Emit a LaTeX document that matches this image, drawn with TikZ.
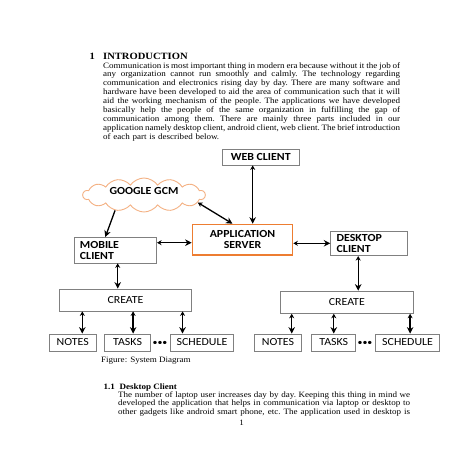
\documentclass[tikz,border=0pt]{standalone}
\usepackage{fontspec}
\setmainfont{Liberation Serif}[FakeStretch=1.1]
\newfontfamily\diagfont{Carlito}[FakeStretch=1.1]
\usetikzlibrary{positioning,calc,shapes.symbols,arrows.meta}
\definecolor{boxgray}{HTML}{808080}
\definecolor{srvorange}{HTML}{ED7D31}
\definecolor{cloudorange}{HTML}{F4B183}
\newcommand{\jline}[2][297pt]{\leavevmode{\spaceskip=0.25em plus 1fil minus 0.08em\xspaceskip=\spaceskip\hbox to #1{#2}}}
\tikzset{block/.style={draw=boxgray,line width=0.8pt,inner sep=0pt,align=center,
                       font=\diagfont\fontsize{10.8}{10.6}\selectfont},
         bblock/.style={block,font=\diagfont\bfseries\fontsize{10.8}{10.6}\selectfont},
         para/.style={anchor=base west,inner sep=0pt,align=left,
                      font=\fontsize{8.2}{8.9}\selectfont},
         line/.style={-latex}
}
\tikzstyle{arrow} = [line width=1.3pt,{Stealth[length=4.5pt,width=5pt]}-{Stealth[length=6.5pt,width=6.5pt]}]
\tikzstyle{oneway} = [line width=1.3pt,-{Stealth[length=6.5pt,width=6.5pt]}]

\begin{document}
\begin{tikzpicture}[x=1pt,y=-1pt]
\path[use as bounding box,fill=white] (0,0) rectangle (453,453);

% page text
\node[anchor=base west,inner sep=0pt,font=\bfseries\fontsize{9.6}{10}\selectfont] (secnum) at (89.5,59.5) {1};
\node[anchor=base west,inner sep=0pt,font=\bfseries\fontsize{9.6}{10}\selectfont] (sectitle) at (103,59.5) {INTRODUCTION};
\node[para,text width=297pt] (intro) at (103,68) {%
\jline{Communication is most important thing in modern era because without it the job of}\\
\jline{any organization cannot run smoothly and calmly. The technology regarding}\\
\jline{communication and electronics rising day by day. There are many software and}\\
\jline{hardware have been developed to aid the area of communication such that it will}\\
\jline{aid the working mechanism of the people. The applications we have developed}\\
\jline{basically help the people of the same organization in fulfilling the gap of}\\
\jline{communication among them. There are mainly three parts included in our}\\
\jline{application namely desktop client, android client, web client. The brief introduction}\\
of each part is described below.};

% system diagram
\node[bblock,minimum width=77pt,minimum height=16pt] (web) at (260.7,157) {WEB CLIENT};
\node[cloud,cloud puffs=14,cloud puff arc=110,cloud ignores aspect,draw=cloudorange,line width=0.9pt,
      minimum width=122pt,minimum height=34pt,inner sep=0pt,text height=7pt,text depth=9pt,
      font=\diagfont\bfseries\fontsize{10.8}{10.6}\selectfont] (gcm) at (144,195) {GOOGLE GCM};
\node[bblock,draw=srvorange,line width=1.3pt,minimum width=100.4pt,minimum height=30.7pt] (server) at (242.5,239.7) {APPLICATION\\SERVER};
\node[bblock,align=left,text width=70.7pt,inner xsep=6pt,minimum height=25.5pt] (mobile) at (115.3,250.2) {MOBILE\\CLIENT};
\node[bblock,align=left,text width=65pt,inner xsep=6pt,minimum height=24.7pt] (desktop) at (369.2,243.3) {DESKTOP\\CLIENT};

\node[block,minimum width=132.4pt,minimum height=22pt] (createL) at (125.5,300) {CREATE};
\node[block,minimum width=132.5pt,minimum height=22.3pt] (createR) at (346.8,302.2) {CREATE};

\node[block,minimum width=46.5pt,minimum height=17pt] (notesL) at (72.7,342.5) {NOTES};
\node[block,minimum width=46.3pt,minimum height=17pt,right=7.7pt of notesL] (tasksL) {TASKS};
\node[block,minimum width=63pt,minimum height=17pt,right=19pt of tasksL] (scheduleL) {SCHEDULE};
\node[inner sep=0pt,font=\diagfont\fontsize{9}{9}\selectfont] (dotsL) at (160,343) {\textbullet\textbullet\textbullet};

\node[block,minimum width=47.4pt,minimum height=17pt] (notesR) at (278,342.5) {NOTES};
\node[block,minimum width=44pt,minimum height=17pt,right=9.3pt of notesR] (tasksR) {TASKS};
\node[block,minimum width=64pt,minimum height=17pt,right=19pt of tasksR] (scheduleR) {SCHEDULE};
\node[inner sep=0pt,font=\diagfont\fontsize{9}{9}\selectfont] (dotsR) at (365,343) {\textbullet\textbullet\textbullet};

\draw[arrow] ([xshift=-8pt]web.south) -- ([xshift=-8pt]web.south |- server.north);
\draw[arrow] (gcm.-8) -- ([xshift=-10pt]server.north);
\draw[oneway] (gcm.-152) -- ([xshift=-10pt]mobile.north);
\draw[arrow] ([yshift=7.5pt]mobile.east) -- ([yshift=7.5pt]mobile.east -| server.west);
\draw[arrow] (server.east |- desktop.west) -- (desktop.west);
\draw[arrow] ([xshift=2.4pt]mobile.south) -- ([xshift=2.4pt]mobile.south |- createL.north);
\draw[arrow] ([xshift=-11pt]desktop.south) -- ([xshift=-11pt]desktop.south |- createR.north);
\foreach \n/\c/\s in {notesL/createL/9.6,tasksL/createL/5.5,scheduleL/createL/-19.5,
                      notesR/createR/13.7,tasksR/createR/0,scheduleR/createR/2.5}
  \draw[arrow] ([xshift=\s pt]\n.north |- \c.south) -- ([xshift=\s pt]\n.north);

\node[anchor=base west,inner sep=0pt,font=\fontsize{8.2}{8.9}\selectfont] (caption) at (101,362.5) {Figure: System Diagram};

% next section
\node[anchor=base west,inner sep=0pt,font=\bfseries\fontsize{8.2}{8.9}\selectfont] (subnum) at (103.3,389.5) {1.1};
\node[anchor=base west,inner sep=0pt,font=\bfseries\fontsize{8.2}{8.9}\selectfont] (subtitle) at (119.3,389.5) {Desktop Client};
\node[para,text width=292pt,font=\fontsize{8.2}{8.4}\selectfont] (subtext) at (118,397.5) {%
\jline[292pt]{The number of laptop user increases day by day. Keeping this thing in mind we}\\
\jline[292pt]{developed the application that helps in communication via laptop or desktop to}\\
\jline[292pt]{other gadgets like android smart phone, etc. The application used in desktop is}};
\node[anchor=base,inner sep=0pt,font=\fontsize{8.2}{8.9}\selectfont] (pagenum) at (241.7,425.5) {1};

\end{tikzpicture}
\end{document}
